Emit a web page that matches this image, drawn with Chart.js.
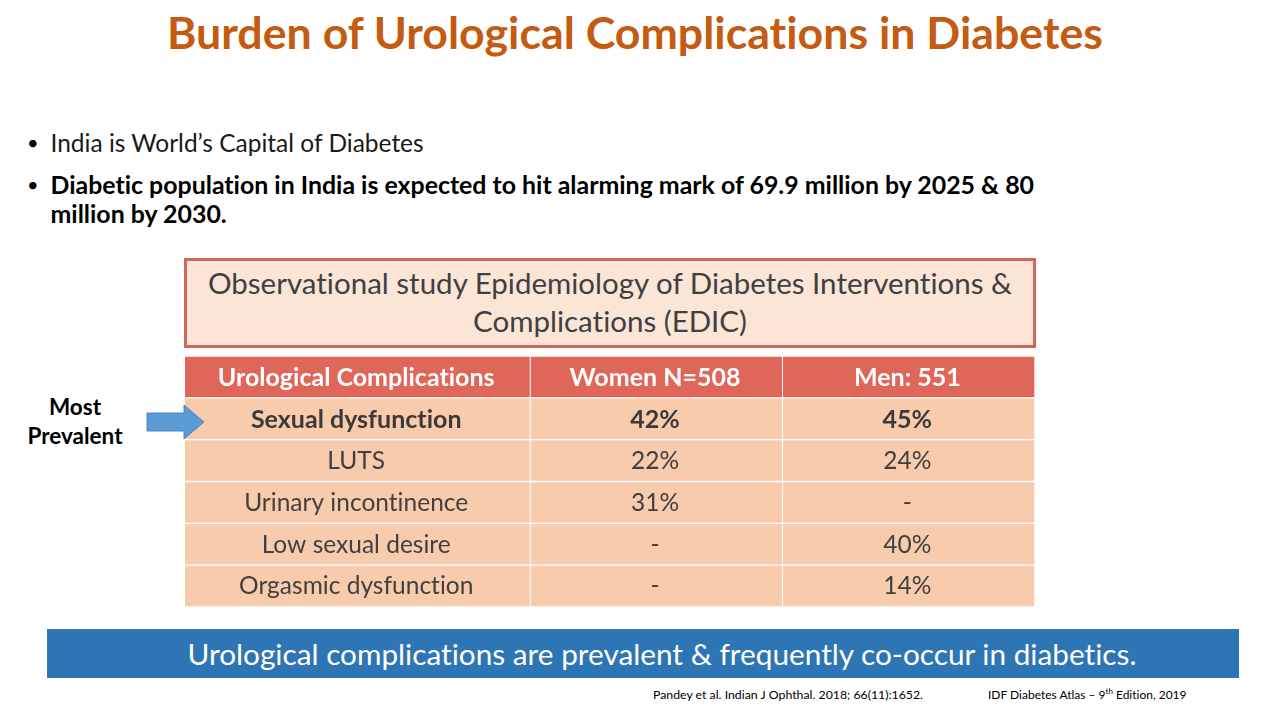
<!DOCTYPE html>
<html>
<head>
<meta charset="utf-8">
<script src="https://cdn.jsdelivr.net/npm/chart.js@4"></script>
<style>
  html, body { margin: 0; padding: 0; background: #fff; }
  body { width: 1280px; height: 720px; position: relative; overflow: hidden; font-family: Lato, sans-serif; font-variant-ligatures: none; }
  .abs { position: absolute; white-space: nowrap; }
  #title { left: 0; width: 1270px; top: 7px; text-align: center; font-size: 44.7px; line-height: 50px; font-weight: 700; color: #c55a11; }
  .bullet { left: 50.5px; font-size: 24.5px; line-height: 29px; color: #1a1a1a; }
  .bullet b { font-weight: 700; color: #000; font-size: 24.9px; }
  .dot { left: 27px; font-size: 20px; line-height: 29px; color: #000; }
  #note { left: 184px; top: 258px; width: 846px; height: 84px; border: 3px solid #d0675b; background: #fbe5d6; color: #404040;
          font-size: 29.5px; line-height: 38px; text-align: center; white-space: normal; }
  #note div { padding-top: 3px; }
  #tableWrap { left: 185px; top: 356px; width: 850px; height: 251px; }
  #prevalent { left: 15px; width: 120px; top: 392px; text-align: center; font-size: 22.5px; line-height: 29px; font-weight: 700; color: #000; }
  #banner { left: 47px; top: 629px; width: 1192px; height: 49px; box-sizing: border-box; padding-left: 38px; background: #2e75b6; color: #fff; font-size: 29.75px; line-height: 49px; text-align: center; }
  .ref { top: 688px; line-height: 14px; color: #000; }
  .ref sup { font-size: 8px; line-height: 0; }
</style>
</head>
<body>
<div class="abs" id="title">Burden of Urological Complications in Diabetes</div>
<div class="abs dot" style="top:128px">•</div>
<div class="abs bullet" style="top:128px">India is World’s Capital of Diabetes</div>
<div class="abs dot" style="top:170px">•</div>
<div class="abs bullet" style="top:170px"><b>Diabetic population in India is expected to hit alarming mark of 69.9 million by 2025 &amp; 80</b></div>
<div class="abs bullet" style="top:199px"><b>million by 2030.</b></div>
<div class="abs" id="note"><div>Observational study Epidemiology of Diabetes Interventions &amp;<br>Complications (EDIC)</div></div>
<div class="abs" id="prevalent">Most<br>Prevalent</div>
<div class="abs" id="tableWrap"><canvas id="tableChart" width="850" height="251"></canvas></div>
<svg class="abs" style="left:146px;top:404px" width="60" height="38"><path d="M1 9H38V1L58 18L38 35V27H1Z" fill="#5b9bd5" stroke="#4a86bd" stroke-width="1"/></svg>
<div class="abs" id="banner">Urological complications are prevalent &amp; frequently co-occur in diabetics.</div>
<div class="abs ref" style="left:653px;font-size:12.3px">Pandey et al. Indian J Ophthal. 2018; 66(11):1652.</div>
<div class="abs ref" style="left:988px;font-size:12px">IDF Diabetes Atlas – 9<sup>th</sup> Edition, 2019</div>

<script>
// Table content
const rowLabels = ['Urological Complications', 'Sexual dysfunction', 'LUTS', 'Urinary incontinence', 'Low sexual desire', 'Orgasmic dysfunction'];
const womenCol = ['Women N=508', '42%', '22%', '31%', '-', '-'];
const menCol = ['Men: 551', '45%', '24%', '-', '40%', '14%'];

// Relative column widths, the table is one stacked bar per row
const labelSpan = [345, 345, 345, 345, 345, 345];
const womenSpan = [252, 252, 252, 252, 252, 252];
const menSpan = [252, 252, 252, 252, 252, 252];

const headerColor = '#df6659';
const rowColor = '#f8cbad';

function cellColors() {
    return rowLabels.map((_, i) => i === 0 ? headerColor : rowColor);
}

// Writes the cell text in the middle of each bar segment
const cellText = {
    id: 'cellText',
    afterDatasetsDraw(chart) {
        const ctx = chart.ctx;
        const columns = [rowLabels, womenCol, menCol];
        columns.forEach((col, d) => {
            chart.getDatasetMeta(d).data.forEach((bar, i) => {
                const center = bar.getCenterPoint();
                const bold = i < 2;
                ctx.save();
                ctx.font = (bold ? '700 25px' : '400 24.5px') + ' Lato';
                ctx.letterSpacing = '0.01px'; // stops the ti ligature
                ctx.fillStyle = i === 0 ? '#ffffff' : (bold ? '#3a3a3a' : '#404040');
                ctx.textAlign = 'center';
                ctx.textBaseline = 'middle';
                ctx.fillText(col[i], center.x - 1.5, center.y + (bold ? 1.5 : 0.5));
                ctx.restore();
            });
        });
    }
};

new Chart(document.getElementById('tableChart'), {
    type: 'bar',
    data: {
        labels: rowLabels,
        datasets: [labelSpan, womenSpan, menSpan].map(span => ({
            data: span,
            backgroundColor: cellColors(),
            borderColor: '#ffffff',
            borderWidth: 1,
            categoryPercentage: 1,
            barPercentage: 1
        }))
    },
    options: {
        indexAxis: 'y',
        responsive: false,
        animation: false,
        layout: { padding: 0 },
        plugins: { legend: { display: false }, tooltip: { enabled: false } },
        scales: {
            x: { stacked: true, display: false, min: 0, max: 849 },
            y: { stacked: true, display: false }
        }
    },
    plugins: [cellText]
});
</script>
</body>
</html>
